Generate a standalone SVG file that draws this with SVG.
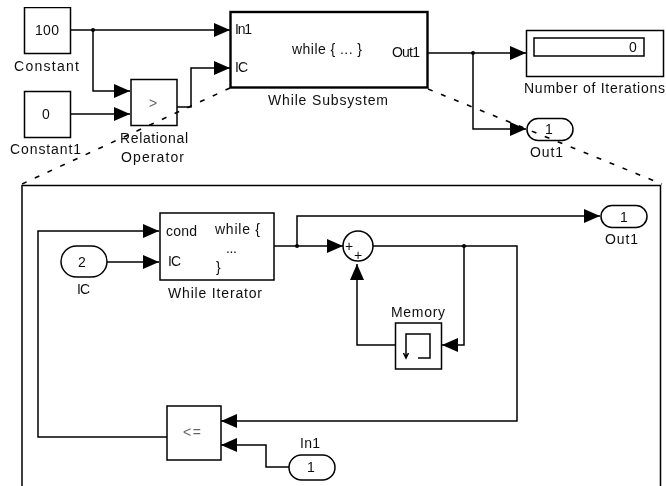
<svg xmlns="http://www.w3.org/2000/svg" width="666" height="486" viewBox="0 0 666 486">
<style>
text{font-family:"Liberation Sans",Arial,sans-serif;font-size:14px;fill:#111;text-anchor:start}
.m{text-anchor:middle}
.g{fill:#666}
.b{fill:#fff;stroke:#000;stroke-width:1.500}
.w{fill:none;stroke:#000;stroke-width:1.500}
.d{fill:none;stroke:#000;stroke-width:1.600;stroke-dasharray:5 9}
</style>
<defs>
<filter id="soft" x="0" y="0" width="100%" height="100%"><feGaussianBlur stdDeviation="0.35"/></filter>
<marker id="a" markerUnits="userSpaceOnUse" markerWidth="16" markerHeight="14" refX="16" refY="7" orient="auto"><path d="M0 0L16 7L0 14Z" fill="#000"/></marker>
</defs>
<rect width="666" height="486" fill="#fff"/>
<g filter="url(#soft)">
<g id="frame"><path d="M22 486V185.500H660.500V486" class="w"/></g>
<g id="connectors">
<path class="w" d="M71 30H230" marker-end="url(#a)"/>
<path class="w" d="M93 30V91H130" marker-end="url(#a)"/>
<path class="w" d="M71 114H130" marker-end="url(#a)"/>
<path class="w" d="M177 107H191V68H230" marker-end="url(#a)"/>
<path class="w" d="M428 53H526" marker-end="url(#a)"/>
<path class="w" d="M473 53V129H526" marker-end="url(#a)"/>
<path class="w" d="M167 437H38V231H159" marker-end="url(#a)"/>
<path class="w" d="M107 262H159" marker-end="url(#a)"/>
<path class="w" d="M274 246H343" marker-end="url(#a)"/>
<path class="w" d="M297 246V216H600" marker-end="url(#a)"/>
<path class="w" d="M373 246H517V421H221" marker-end="url(#a)"/>
<path class="w" d="M464 246V345H442" marker-end="url(#a)"/>
<path class="w" d="M395 345H357V264" marker-end="url(#a)"/>
<path class="w" d="M289 467H266V445H221" marker-end="url(#a)"/>
<circle cx="93" cy="30" r="2" fill="#000"/>
<circle cx="473" cy="53" r="2" fill="#000"/>
<circle cx="297" cy="246" r="2" fill="#000"/>
<circle cx="464" cy="246" r="2" fill="#000"/>
</g>
<g id="constant"><rect class="b" x="24.500" y="7.500" width="46" height="46"/><text x="35" y="35" textLength="24">100</text><text x="14" y="70.500" textLength="65">Constant</text></g>
<g id="constant1"><rect class="b" x="24.500" y="91.500" width="46" height="46"/><text class="m" x="46" y="119">0</text><text x="10" y="154" textLength="71">Constant1</text></g>
<g id="relational"><rect class="b" x="131" y="79.500" width="46" height="46"/><text class="m g" x="153" y="108">&gt;</text><text x="120" y="143" textLength="68">Relational</text><text x="121" y="162" textLength="63">Operator</text></g>
<g id="while-subsystem"><rect x="230.500" y="12" width="197" height="75.500" fill="#fff" stroke="#000" stroke-width="2.400"/><text x="235" y="34" textLength="17">In1</text><text x="235" y="72" textLength="13">IC</text><text x="292" y="54" textLength="70">while { ... }</text><text x="392" y="57" textLength="28">Out1</text><text x="268" y="105" textLength="120">While Subsystem</text></g>
<g id="number-of-iterations"><rect class="b" x="526.500" y="30.500" width="137" height="46"/><rect class="b" x="534" y="38" width="110" height="18"/><text class="m" x="633" y="52">0</text><text x="524" y="93" textLength="141">Number of Iterations</text></g>
<g id="out1-top"><rect class="b" x="527" y="118.500" width="46" height="22" rx="11"/><text class="m" x="549" y="134">1</text><text x="530" y="157" textLength="33">Out1</text></g>
<g id="while-iterator"><rect class="b" x="160" y="213" width="114" height="67"/><text x="166" y="236" textLength="31">cond</text><text x="168" y="266" textLength="13">IC</text><text x="215" y="234" textLength="45">while {</text><text x="226" y="253" textLength="11">...</text><text x="216" y="272">}</text><text x="168" y="298" textLength="94">While Iterator</text></g>
<g id="ic"><rect class="b" x="61" y="246" width="46" height="31" rx="15.500"/><text class="m" x="82" y="267">2</text><text x="77" y="294" textLength="13">IC</text></g>
<g id="sum"><circle class="b" cx="358" cy="246" r="15"/><text class="m" x="349" y="251">+</text><text class="m" x="358" y="260">+</text></g>
<g id="out1-inner"><rect class="b" x="601" y="205.500" width="46" height="22" rx="11"/><text class="m" x="624" y="222">1</text><text x="605" y="244" textLength="33">Out1</text></g>
<g id="memory"><rect class="b" x="395.500" y="323" width="46" height="46"/><path class="w" d="M418 358H430V334H406V357M403.500 353L406 358L408.500 353"/><text x="391" y="317" textLength="54">Memory</text></g>
<g id="compare"><rect class="b" x="167" y="406" width="54" height="54"/><text class="g" x="183" y="437" textLength="18">&lt;=</text></g>
<g id="in1"><rect class="b" x="289" y="455" width="46" height="25" rx="12.500"/><text class="m" x="311" y="472">1</text><text x="300" y="448" textLength="20">In1</text></g>
<g id="zoom-lines"><path class="d" d="M230 88L22 184"/><path class="d" d="M428 89L662 184"/></g>
</g>
</svg>
